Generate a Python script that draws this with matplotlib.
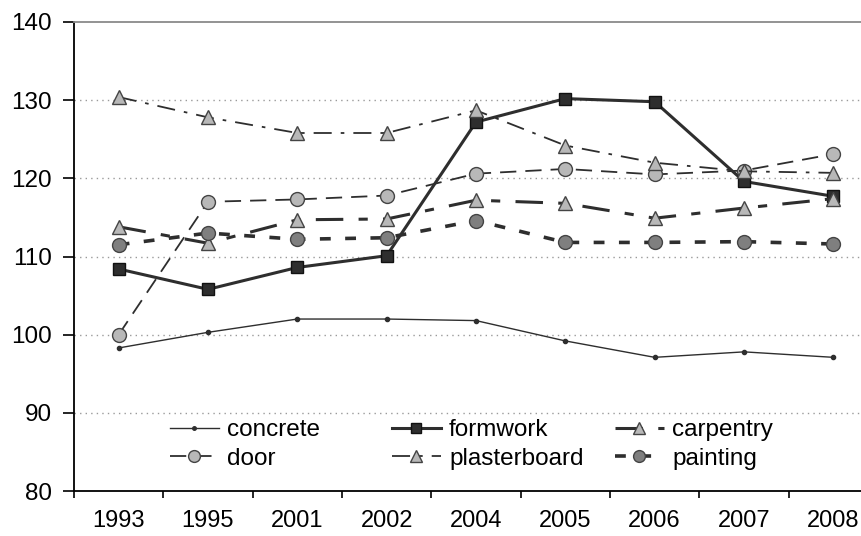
import matplotlib.pyplot as plt
from matplotlib.legend import Legend
import numpy as np

plt.rcParams['font.family'] = ['Liberation Sans', 'DejaVu Sans']

years = ["1993", "1995", "2001", "2002", "2004", "2005", "2006", "2007", "2008"]

concrete = [98.3, 100.3, 102.0, 102.0, 101.8, 99.2, 97.1, 97.8, 97.1]
formwork = [108.4, 105.8, 108.6, 110.1, 127.2, 130.2, 129.8, 119.6, 117.7]
carpentry = [113.8, 111.7, 114.7, 114.8, 117.2, 116.8, 114.9, 116.2, 117.4]
door = [100.0, 117.0, 117.3, 117.8, 120.6, 121.2, 120.5, 121.0, 123.1]
plasterboard = [130.4, 127.8, 125.8, 125.8, 128.7, 124.2, 122.0, 120.9, 120.7]
painting = [111.5, 113.0, 112.2, 112.4, 114.6, 111.8, 111.8, 111.9, 111.6]

xx = np.arange(len(years))
dark = '#2e2e2e'
light = '#b8b8b8'
mid = '#7f7f7f'

fig = plt.figure(figsize=(8.62, 5.36), dpi=100)
# plot area runs past the right edge like the original crop
ax = fig.add_axes([74/862, 45/536, 804/862, 469/536])

l_conc, = ax.plot(xx, concrete, color=dark, lw=1.0, marker='o', ms=3,
                  label='concrete')
l_form, = ax.plot(xx, formwork, color=dark, lw=2.2, marker='s', ms=8.5,
                  mfc=dark, mec='#111111', label='formwork')
l_carp, = ax.plot(xx, carpentry, color=dark, lw=2.2, dashes=(9, 5, 3, 5),
                  marker='^', ms=10, mfc=light, mec='#444444', label='carpentry')
l_door, = ax.plot(xx, door, color=dark, lw=1.3, dashes=(9, 5),
                  marker='o', ms=10, mfc=light, mec='#444444', label='door')
l_plas, = ax.plot(xx, plasterboard, color=dark, lw=1.3, dashes=(10, 5, 2, 5),
                  marker='^', ms=10, mfc=light, mec='#444444', label='plasterboard')
l_pain, = ax.plot(xx, painting, color=dark, lw=2.6, dashes=(3, 4),
                  marker='o', ms=10, mfc=mid, mec='#444444', label='painting')

ax.set_xlim(-0.5, len(years) - 0.5)
ax.set_ylim(80, 140)
ax.set_yticks(np.arange(80, 141, 10))
ax.set_xticks(xx)
ax.set_xticklabels(years)
ax.set_xticks(np.arange(-0.5, len(years), 1), minor=True)
ax.tick_params(axis='x', which='major', length=0, pad=14, labelsize=17)
ax.tick_params(axis='x', which='minor', length=5, width=1.2, direction='out')
ax.tick_params(axis='y', length=8, width=1.2, labelsize=17.5, pad=8)

for v in range(90, 131, 10):
    ax.axhline(v, color='#9a9a9a', lw=1.0, ls=(0, (1, 3)), zorder=0)

ax.spines['top'].set_color('#8a8a8a')
ax.spines['top'].set_linewidth(1.3)
ax.spines['right'].set_visible(False)
ax.spines['left'].set_linewidth(1.3)
ax.spines['bottom'].set_linewidth(1.3)

# one legend per column, like the spreadsheet legend grid
columns = [(l_conc, l_door), (l_form, l_plas), (l_carp, l_pain)]
col_x = [170, 392, 615]
for hs, x0 in zip(columns, col_x):
    leg = Legend(ax, list(hs), [h.get_label() for h in hs], frameon=False,
                 fontsize=17.5, loc='upper left',
                 bbox_to_anchor=(x0/862, 1 - 419/536),
                 bbox_transform=fig.transFigure, handlelength=2.0,
                 handletextpad=0.35, labelspacing=0.28,
                 borderpad=0, borderaxespad=0)
    for h in leg.legend_handles:
        h.set_markersize(h.get_markersize() * 0.85)
    ax.add_artist(leg)

plt.savefig("out.png", dpi=100)
